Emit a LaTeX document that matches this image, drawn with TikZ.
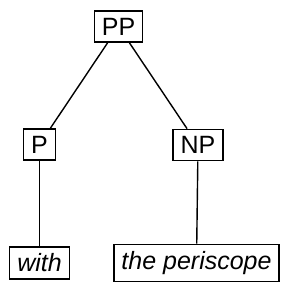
\documentclass[tikz,border=0pt]{standalone}
\usepackage{fontspec}
\setmainfont{Liberation Sans}
\begin{document}
\begin{tikzpicture}[x=1pt,y=-1pt,
  cat/.style={draw=black,line width=1.4pt,fill=white,inner xsep=7.5pt,inner ysep=7pt,font=\fontsize{25}{29}\selectfont},
  word/.style={cat,font=\fontsize{25}{29}\selectfont\itshape},
  edge/.style={draw=black,line width=1.4pt}]
\useasboundingbox (0,0) rectangle (290,292);
\node[cat] (pp) at (118.5,26.5) {PP};
\node[cat] (p) at (39.5,144.5) {P};
\node[cat] (np) at (198,145) {NP};
\node[word] (with) at (39.5,263) {with};
\node[word] (peri) at (196.5,263) {the periscope};
\draw[edge] (pp) -- (p);
\draw[edge] (pp) -- (np);
\draw[edge] (p) -- (with);
\draw[edge] (np) -- (peri);
\end{tikzpicture}
\end{document}
